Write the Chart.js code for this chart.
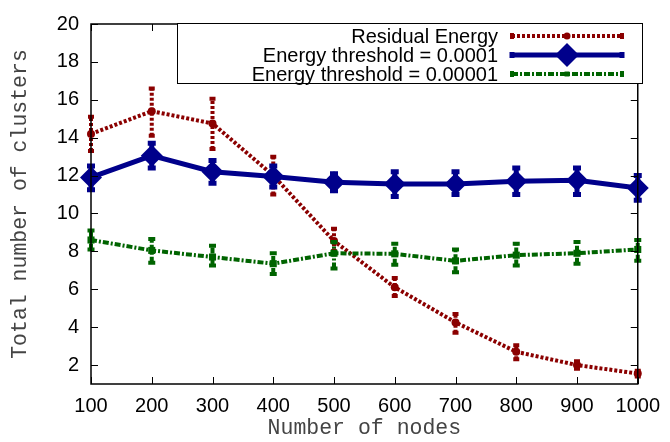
<!DOCTYPE html>
<html>
<head>
<meta charset="utf-8">
<script src="https://cdn.jsdelivr.net/npm/chart.js@4/dist/chart.umd.min.js"></script>
<style>
  html, body { margin: 0; padding: 0; background: #fff; }
  #wrap { width: 670px; height: 442px; }
</style>
</head>
<body>
<div id="wrap"><canvas id="chart" width="670" height="442"></canvas></div>
<script>
// values
const nodes = [100, 200, 300, 400, 500, 600, 700, 800, 900, 1000];
const yTicks = [2, 4, 6, 8, 10, 12, 14, 16, 18, 20];

const residual = [14.2, 15.4, 14.75, 12.0, 8.55, 6.1, 4.25, 2.7, 2.0, 1.55];
const residualLow = [13.3, 14.1, 13.4, 11.0, 8.0, 5.65, 3.7, 2.3, 1.8, 1.4];
const residualHigh = [15.1, 16.6, 16.05, 13.0, 9.2, 6.6, 4.7, 3.05, 2.2, 1.7];

const thr4 = [11.9, 13.05, 12.2, 11.95, 11.65, 11.55, 11.55, 11.7, 11.75, 11.35];
const thr4Low = [11.25, 12.4, 11.6, 11.4, 11.2, 10.9, 11.0, 11.0, 11.0, 10.7];
const thr4High = [12.5, 13.7, 12.8, 12.5, 12.1, 12.2, 12.2, 12.4, 12.4, 12.0];

const thr5 = [8.6, 8.05, 7.7, 7.35, 7.9, 7.87, 7.5, 7.8, 7.9, 8.1];
const thr5Low = [8.1, 7.4, 7.25, 6.8, 7.1, 7.3, 6.9, 7.25, 7.35, 7.5];
const thr5High = [9.1, 8.65, 8.3, 7.9, 8.5, 8.4, 8.1, 8.4, 8.5, 8.6];

const seriesLabels = ["Residual Energy", "Energy threshold = 0.0001", "Energy threshold = 0.00001"];

const RED = "#8b0000";
const BLUE = "#00008b";
const GREEN = "#006400";
const SANS = '"Liberation Sans", Arial, sans-serif';
const MONO = '"Liberation Mono", "Courier New", monospace';

function points(values) {
  return values.map((v, i) => ({ x: nodes[i], y: v }));
}

// vertical error bars, drawn right after each dataset so layering matches
const errorBars = {
  id: "errorBars",
  afterDatasetDraw(chart, args) {
    const ds = chart.data.datasets[args.index];
    if (!ds.errLow) return;
    const xs = chart.scales.x;
    const ys = chart.scales.y;
    const ctx = chart.ctx;
    ctx.save();
    ctx.strokeStyle = ds.borderColor;
    ctx.lineWidth = ds.borderWidth;
    nodes.forEach((n, i) => {
      const x = xs.getPixelForValue(n);
      const y1 = ys.getPixelForValue(ds.errLow[i]);
      const y2 = ys.getPixelForValue(ds.errHigh[i]);
      ctx.setLineDash(ds.borderDash || []);
      ctx.beginPath();
      ctx.moveTo(x, y1);
      ctx.lineTo(x, y2);
      ctx.stroke();
      ctx.setLineDash([]);
      ctx.beginPath();
      ctx.moveTo(x - ds.capHalf, y1);
      ctx.lineTo(x + ds.capHalf, y1);
      ctx.moveTo(x - ds.capHalf, y2);
      ctx.lineTo(x + ds.capHalf, y2);
      ctx.stroke();
    });
    ctx.restore();
  },
};

// gnuplot style frame with inward ticks on all four sides
const frame = {
  id: "frame",
  afterDraw(chart) {
    const { ctx, chartArea: a } = chart;
    const xs = chart.scales.x;
    const ys = chart.scales.y;
    ctx.save();
    ctx.strokeStyle = "#000";
    ctx.lineWidth = 1;
    ctx.beginPath();
    nodes.forEach((n) => {
      const x = Math.round(xs.getPixelForValue(n)) + 0.5;
      ctx.moveTo(x, a.bottom);
      ctx.lineTo(x, a.bottom - 7);
      ctx.moveTo(x, a.top);
      ctx.lineTo(x, a.top + 7);
    });
    yTicks.forEach((v) => {
      const y = Math.round(ys.getPixelForValue(v)) + 0.5;
      ctx.moveTo(a.left, y);
      ctx.lineTo(a.left + 7, y);
      ctx.moveTo(a.right, y);
      ctx.lineTo(a.right - 7, y);
    });
    ctx.stroke();
    ctx.lineWidth = 1.5;
    ctx.strokeRect(a.left, a.top, a.right - a.left, a.bottom - a.top);
    ctx.restore();
  },
};

// legend box: right-aligned text with line sample to its right
const keyBox = {
  id: "keyBox",
  afterDraw(chart) {
    const ctx = chart.ctx;
    ctx.save();
    ctx.fillStyle = "#fff";
    ctx.fillRect(177, 23, 465, 60);
    ctx.strokeStyle = "#000";
    ctx.lineWidth = 1;
    ctx.strokeRect(177.5, 23.5, 465, 60);
    ctx.font = "20px " + SANS;
    ctx.textAlign = "right";
    ctx.textBaseline = "middle";
    const rows = [36, 55, 74];
    const legendRadius = [3.5, 12, 3.5];
    chart.data.datasets.forEach((ds, i) => {
      const y = rows[i];
      ctx.fillStyle = "#000";
      ctx.fillText(seriesLabels[i], 498, y + 1);
      ctx.strokeStyle = ds.borderColor;
      ctx.lineWidth = ds.borderWidth;
      ctx.setLineDash(ds.borderDash || []);
      ctx.beginPath();
      ctx.moveTo(512, y);
      ctx.lineTo(622, y);
      ctx.stroke();
      ctx.setLineDash([]);
      ctx.beginPath();
      ctx.moveTo(512, y - 3);
      ctx.lineTo(512, y + 3);
      ctx.moveTo(622, y - 3);
      ctx.lineTo(622, y + 3);
      ctx.stroke();
      ctx.fillStyle = ds.borderColor;
      Chart.helpers.drawPoint(ctx, {
        pointStyle: ds.pointStyle,
        radius: legendRadius[i],
        borderWidth: 0,
      }, 567, y);
    });
    ctx.restore();
  },
};

new Chart(document.getElementById("chart"), {
  type: "line",
  data: {
    datasets: [
      {
        label: seriesLabels[0],
        data: points(residual),
        errLow: residualLow,
        errHigh: residualHigh,
        capHalf: 3,
        borderColor: RED,
        backgroundColor: RED,
        borderWidth: 4,
        borderDash: [3, 2],
        pointStyle: "circle",
        pointRadius: 4,
        pointBorderWidth: 0,
        order: 3,
      },
      {
        label: seriesLabels[1],
        data: points(thr4),
        errLow: thr4Low,
        errHigh: thr4High,
        capHalf: 4,
        borderColor: BLUE,
        backgroundColor: BLUE,
        borderWidth: 5,
        pointStyle: "rectRot",
        pointRadius: 11,
        pointBorderWidth: 0,
        order: 2,
      },
      {
        label: seriesLabels[2],
        data: points(thr5),
        errLow: thr5Low,
        errHigh: thr5High,
        capHalf: 3.5,
        borderColor: GREEN,
        backgroundColor: GREEN,
        borderWidth: 4,
        borderDash: [6, 2, 2, 2],
        pointStyle: "rect",
        pointRadius: 5,
        pointBorderWidth: 0,
        order: 1,
      },
    ],
  },
  options: {
    responsive: false,
    animation: false,
    clip: false,
    layout: { padding: { top: 18, right: 26, left: 0, bottom: 0 } },
    plugins: {
      legend: { display: false },
      tooltip: { enabled: false },
    },
    elements: { line: { tension: 0 } },
    scales: {
      x: {
        type: "linear",
        min: 100,
        max: 1000,
        afterBuildTicks: (s) => { s.ticks = nodes.map((v) => ({ value: v })); },
        afterFit: (s) => { s.height = 58; },
        grid: { display: false, drawTicks: false },
        border: { display: false },
        ticks: {
          padding: 10,
          color: "#000",
          maxRotation: 0,
          callback: (v) => String(v),
          font: { family: SANS, size: 20 },
        },
        title: {
          display: true,
          text: "Number of nodes",
          color: "#444",
          font: { family: MONO, size: 21.5 },
          padding: { top: 0, bottom: 1 },
        },
      },
      y: {
        min: 1,
        max: 20,
        afterBuildTicks: (s) => { s.ticks = yTicks.map((v) => ({ value: v })); },
        afterFit: (s) => { s.width = 91; },
        grid: { display: false, drawTicks: false },
        border: { display: false },
        ticks: {
          padding: 12,
          color: "#000",
          callback: (v) => String(v),
          font: { family: SANS, size: 20 },
        },
        title: {
          display: true,
          text: "Total number of clusters",
          color: "#444",
          font: { family: MONO, size: 21.5 },
          padding: { top: 7, bottom: 0 },
        },
      },
    },
  },
  plugins: [errorBars, frame, keyBox],
});
</script>
</body>
</html>
